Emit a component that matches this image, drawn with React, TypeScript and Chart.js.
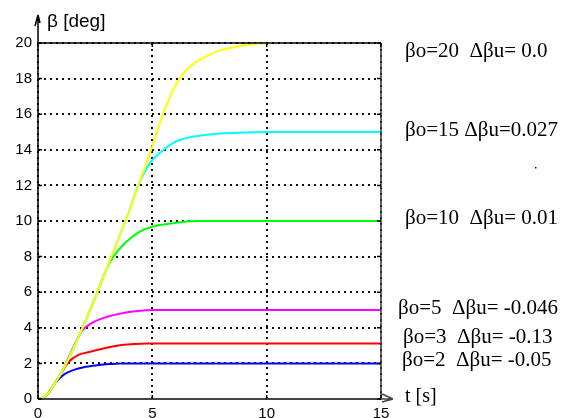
import React, { useEffect, useRef } from "react";
import { Chart, registerables } from "chart.js";

Chart.register(...registerables);

const tYellow = [0, 0.25, 0.5, 0.75, 1, 1.5, 2, 2.5, 3, 3.5, 4, 4.5, 5, 5.5, 6, 6.5, 7, 7.5, 8, 8.5, 9, 9.5, 10];
const bYellow = [0, 0.1, 0.42, 0.92, 1.42, 2.7, 4.15, 5.7, 7.3, 8.95, 10.6, 12.4, 14.2, 16.1, 17.6, 18.5, 19.0, 19.35, 19.6, 19.75, 19.87, 19.95, 20];

const tCyan = [0, 0.25, 0.5, 0.75, 1, 1.5, 2, 2.5, 3, 3.5, 4, 4.4, 4.9, 5.4, 6, 7, 8, 9, 10, 15];
const bCyan = [0, 0.1, 0.42, 0.92, 1.42, 2.7, 4.15, 5.7, 7.3, 8.95, 10.6, 12.05, 13.25, 13.9, 14.45, 14.78, 14.92, 14.97, 15, 15];

const tGreen = [0, 0.25, 0.5, 0.75, 1, 1.5, 2, 2.5, 3, 3.3, 3.8, 4.45, 5.0, 5.9, 6.5, 7, 15];
const bGreen = [0, 0.1, 0.42, 0.92, 1.42, 2.7, 4.15, 5.7, 7.3, 8.0, 8.75, 9.4, 9.68, 9.87, 9.97, 10, 10];

const tMagenta = [0, 0.25, 0.5, 0.75, 1, 1.4, 1.9, 2.33, 2.91, 3.64, 4.37, 5.1, 15];
const bMagenta = [0, 0.1, 0.42, 0.92, 1.42, 2.5, 3.78, 4.25, 4.57, 4.81, 4.94, 5.0, 5.0];

const tRed = [0, 0.25, 0.5, 0.75, 1.02, 1.31, 1.75, 2.2, 2.91, 3.64, 4.8, 15];
const bRed = [0, 0.1, 0.42, 0.92, 1.44, 2.05, 2.47, 2.63, 2.85, 3.03, 3.12, 3.12];

const tBlue = [0, 0.25, 0.5, 0.73, 1.16, 1.6, 2.0, 2.5, 3.0, 3.6, 15];
const bBlue = [0, 0.1, 0.42, 0.88, 1.4, 1.65, 1.78, 1.88, 1.95, 2.0, 2.0];

const xTicks = [0, 5, 10, 15];
const yTicks = [0, 2, 4, 6, 8, 10, 12, 14, 16, 18, 20];

const annotations = [
  "βo=20  Δβu= 0.0",
  "βo=15 Δβu=0.027",
  "βo=10  Δβu= 0.01",
  "βo=5  Δβu= -0.046",
  "βo=3  Δβu= -0.13",
  "βo=2  Δβu= -0.05",
];
const yAxisTitle = "β [deg]";
const xAxisTitle = "t [s]";

const toPts = (t: number[], b: number[]) => t.map((x, i) => ({ x, y: b[i] }));

const extras = {
  id: "extras",
  afterDraw(chart: any) {
    const { ctx, chartArea } = chart;
    const { left: L, right: R, top: T, bottom: B } = chartArea;
    const xs = chart.scales.x;
    const ys = chart.scales.y;
    ctx.save();
    ctx.setLineDash([]);
    // frame
    ctx.strokeStyle = "#000";
    ctx.lineWidth = 1.5;
    ctx.beginPath();
    ctx.moveTo(L, B);
    ctx.lineTo(L, T);
    ctx.lineTo(R, T);
    ctx.stroke();
    ctx.strokeStyle = "#333";
    ctx.beginPath();
    ctx.moveTo(R, T);
    ctx.lineTo(R, B);
    ctx.stroke();
    ctx.strokeStyle = "#444";
    ctx.lineWidth = 2;
    ctx.beginPath();
    ctx.moveTo(L, B);
    ctx.lineTo(R, B);
    ctx.stroke();
    // inward ticks
    ctx.lineWidth = 1.5;
    ctx.strokeStyle = "#000";
    yTicks.forEach((v) => {
      const y = ys.getPixelForValue(v);
      ctx.beginPath();
      ctx.moveTo(L, y);
      ctx.lineTo(L + 4, y);
      ctx.moveTo(R - 4, y);
      ctx.lineTo(R, y);
      ctx.stroke();
    });
    xTicks.forEach((v) => {
      const x = xs.getPixelForValue(v);
      ctx.beginPath();
      ctx.moveTo(x, B);
      ctx.lineTo(x, B - 4);
      ctx.moveTo(x, T);
      ctx.lineTo(x, T + 4);
      ctx.stroke();
    });
    // y arrow
    ctx.lineWidth = 1.5;
    ctx.beginPath();
    ctx.moveTo(L, T);
    ctx.lineTo(L, T - 28);
    ctx.moveTo(L, T - 28);
    ctx.lineTo(L - 3, T - 17);
    ctx.moveTo(L, T - 28);
    ctx.lineTo(L + 2, T - 20);
    ctx.stroke();
    // x arrow
    ctx.strokeStyle = "#444";
    ctx.beginPath();
    ctx.moveTo(R, B);
    ctx.lineTo(R + 12, B);
    ctx.moveTo(R + 12, B);
    ctx.lineTo(R + 1, B - 5);
    ctx.moveTo(R + 12, B);
    ctx.lineTo(R + 1, B + 3);
    ctx.stroke();
    // titles
    ctx.fillStyle = "#000";
    ctx.textBaseline = "middle";
    ctx.textAlign = "left";
    ctx.font = "19px 'Liberation Sans', Arial, sans-serif";
    ctx.fillText(yAxisTitle, L + 9, 22);
    ctx.font = "20px 'Liberation Serif', 'Times New Roman', serif";
    ctx.fillText(xAxisTitle, R + 24, 397);
    // annotations
    const pos = [
      [405, 51],
      [405, 130],
      [405, 218],
      [398, 308],
      [403, 337],
      [402, 360],
    ];
    ctx.font = "21px 'Liberation Serif', 'Times New Roman', serif";
    annotations.forEach((s, i) => {
      ctx.fillText(s, pos[i][0], pos[i][1]);
    });
    ctx.fillRect(535, 167, 1.5, 1.5);
    ctx.restore();
  },
};

export default function App() {
  const ref = useRef<HTMLCanvasElement | null>(null);
  useEffect(() => {
    if (!ref.current) return;
    const mk = (data: any, color: string) => ({
      data,
      borderColor: color,
      backgroundColor: color,
      borderWidth: 2,
      pointRadius: 0,
      cubicInterpolationMode: "monotone" as const,
      fill: false,
    });
    const grid = {
      color: "#111",
      lineWidth: 2,
      drawTicks: false,
    };
    const chart = new Chart(ref.current, {
      type: "line",
      data: {
        datasets: [
          mk(toPts(tYellow, bYellow), "#ffff00"),
          mk(toPts(tCyan, bCyan), "#00ffff"),
          mk(toPts(tGreen, bGreen), "#00ff00"),
          mk(toPts(tMagenta, bMagenta), "#ff00ff"),
          mk(toPts(tRed, bRed), "#ff0000"),
          mk(toPts(tBlue, bBlue), "#0000ff"),
        ],
      },
      options: {
        animation: false,
        responsive: false,
        events: [],
        layout: { padding: { left: 0, right: 206, top: 43, bottom: 0 } },
        plugins: { legend: { display: false }, tooltip: { enabled: false } },
        scales: {
          x: {
            type: "linear",
            min: 0,
            max: 15,
            afterFit: (s: any) => {
              s.height = 19;
            },
            afterBuildTicks: (s: any) => {
              s.ticks = xTicks.map((v) => ({ value: v }));
            },
            ticks: {
              color: "#000",
              padding: 6,
              maxRotation: 0,
              font: { family: "'Liberation Sans', Arial, sans-serif", size: 15 },
            },
            grid,
            border: { display: false, dash: [2, 4] },
          },
          y: {
            type: "linear",
            min: 0,
            max: 20,
            afterFit: (s: any) => {
              s.width = 38;
            },
            afterBuildTicks: (s: any) => {
              s.ticks = yTicks.map((v) => ({ value: v }));
            },
            ticks: {
              color: "#000",
              padding: 6,
              font: { family: "'Liberation Sans', Arial, sans-serif", size: 15 },
            },
            grid,
            border: { display: false, dash: [2, 4] },
          },
        },
      },
      plugins: [extras],
    });
    return () => chart.destroy();
  }, []);
  return (
    <div style={{ position: "absolute", left: 0, top: 0, width: 587, height: 418, background: "#fff" }}>
      <canvas ref={ref} width={587} height={418} style={{ width: 587, height: 418 }} />
    </div>
  );
}
